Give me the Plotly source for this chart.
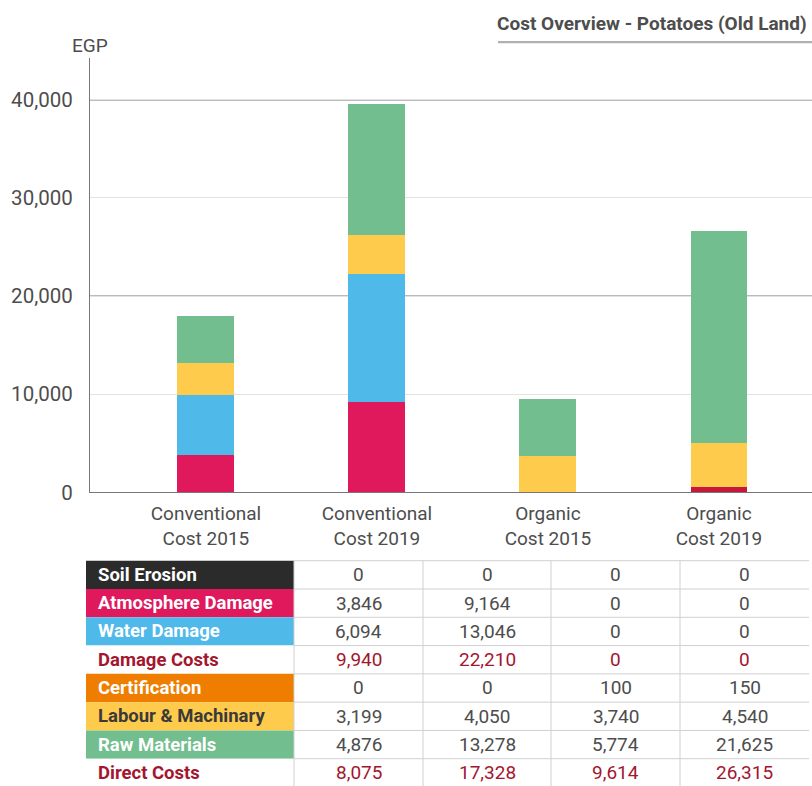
import plotly.graph_objects as go

# ---------------- data ----------------
categories = ["Conventional<br>Cost 2015", "Conventional<br>Cost 2019",
              "Organic<br>Cost 2015", "Organic<br>Cost 2019"]

soil_erosion = [0, 0, 0, 0]
atmosphere_damage = [3846, 9164, 0, 0]
water_damage = [6094, 13046, 0, 0]
damage_costs = [9940, 22210, 0, 0]
certification = [0, 0, 100, 150]
certification_bar = [0, 0, 0, 500]   # height as drawn in the bar chart
labour_machinary = [3199, 4050, 3740, 4540]
raw_materials = [4876, 13278, 5774, 21625]
direct_costs = [8075, 17328, 9614, 26315]

y_ticks = [0, 10000, 20000, 30000, 40000]
y_tick_labels = ["0", "10,000", "20,000", "30,000", "40,000"]
dark_grid_values = [20000, 40000]

row_labels = ["Soil Erosion", "Atmosphere Damage", "Water Damage", "Damage Costs",
              "Certification", "Labour & Machinary", "Raw Materials", "Direct Costs"]

# ---------------- styles ----------------
C_SOIL = "#2b2b2b"
C_ATM = "#E0195C"
C_WATER = "#4FB9EA"
C_CERT_BAR = "#C8173C"
C_CERT = "#EF7D00"
C_LAB = "#FFCB4C"
C_RAW = "#72BE8E"
C_RED_TXT = "#A3162F"
C_TXT = "#4d4d4d"
FONT = "Roboto"

W, H_REF = 812, 786
H = 799  # compensates for the vertical scaling seen in the rendered page
def px_x(v): return v / W
def px_y(v): return (H_REF - v) / H_REF

fig = go.Figure()

series = [
    ("Soil Erosion", soil_erosion, C_SOIL),
    ("Atmosphere Damage", atmosphere_damage, C_ATM),
    ("Water Damage", water_damage, C_WATER),
    ("Certification", certification_bar, C_CERT_BAR),
    ("Labour & Machinary", labour_machinary, C_LAB),
    ("Raw Materials", raw_materials, C_RAW),
]
for name, vals, col in series:
    fig.add_trace(go.Bar(x=categories, y=vals, name=name, marker_color=col,
                         marker_line_width=0))

# ---------------- table (shapes + annotations) ----------------
def fmt(v):
    return f"{v:,}"

rows = [soil_erosion, atmosphere_damage, water_damage, damage_costs,
        certification, labour_machinary, raw_materials, direct_costs]
label_fill = [C_SOIL, C_ATM, C_WATER, "white", C_CERT, C_LAB, C_RAW, "white"]
label_font = ["white", "white", "white", C_RED_TXT, "white", "#3a3a3a", "white", C_RED_TXT]
value_font = [C_TXT, C_TXT, C_TXT, C_RED_TXT, C_TXT, C_TXT, C_TXT, C_RED_TXT]

T_TOP, T_BOT = 560, 786
ROW_H = (T_BOT - T_TOP) / len(row_labels)
LBL_X0, LBL_X1 = 86, 294
col_edges = [294, 423, 551, 680, 809]
GRID = "#d0d0d0"

shapes = []
annotations = []
for i, (lab, vals) in enumerate(zip(row_labels, rows)):
    y0 = T_TOP + i * ROW_H
    y1 = y0 + ROW_H
    yc = (y0 + y1) / 2
    shapes.append(dict(type="rect", xref="paper", yref="paper",
                       x0=px_x(LBL_X0), x1=px_x(LBL_X1), y0=px_y(y1), y1=px_y(y0),
                       fillcolor=label_fill[i], line=dict(width=0), layer="below"))
    annotations.append(dict(text=f"<b>{lab}</b>", xref="paper", yref="paper",
                            x=px_x(LBL_X0 + 10), y=px_y(yc), xanchor="left", yanchor="middle",
                            showarrow=False,
                            font=dict(family=FONT, size=18.5, color=label_font[i])))
    for j, v in enumerate(vals):
        xc = (col_edges[j] + col_edges[j + 1]) / 2
        annotations.append(dict(text=fmt(v), xref="paper", yref="paper",
                                x=px_x(xc), y=px_y(yc), xanchor="center", yanchor="middle",
                                showarrow=False,
                                font=dict(family=FONT, size=19, color=value_font[i])))
# table grid lines
for i in range(len(row_labels) + 1):
    yy = T_TOP + i * ROW_H
    shapes.append(dict(type="line", xref="paper", yref="paper",
                       x0=px_x(col_edges[0]), x1=px_x(col_edges[-1]), y0=px_y(yy), y1=px_y(yy),
                       line=dict(color=GRID, width=1)))
for xe in col_edges[:-1]:
    shapes.append(dict(type="line", xref="paper", yref="paper",
                       x0=px_x(xe), x1=px_x(xe), y0=px_y(T_TOP), y1=px_y(T_BOT),
                       line=dict(color=GRID, width=1)))

# darker grid lines
for gv in dark_grid_values:
    shapes.append(dict(type="line", xref="paper", yref="y", x0=px_x(90), x1=1,
                       y0=gv, y1=gv, line=dict(color="#7a7a7a", width=1.3), layer="below"))
# title underline
shapes.append(dict(type="line", xref="paper", yref="paper", x0=px_x(498), x1=1,
                   y0=px_y(42), y1=px_y(42), line=dict(color="#b0b0b0", width=2.2)))

annotations += [
    dict(text="<b>Cost Overview - Potatoes (Old Land)</b>", xref="paper", yref="paper",
         x=px_x(809), y=px_y(23), xanchor="right", yanchor="middle", showarrow=False,
         font=dict(family=FONT, size=19, color=C_TXT)),
    dict(text="EGP", xref="paper", yref="paper", x=px_x(90), y=px_y(45),
         xanchor="center", yanchor="middle", showarrow=False,
         font=dict(family=FONT, size=19, color=C_TXT)),
]

fig.update_layout(
    width=W, height=H,
    margin=dict(l=0, r=0, t=0, b=0),
    paper_bgcolor="white", plot_bgcolor="white",
    barmode="stack", bargap=0.667, showlegend=False,
    font=dict(family=FONT, color=C_TXT),
    xaxis=dict(domain=[px_x(90), 1], range=[-0.678, 3.544],
               showline=True, linecolor="#777777", linewidth=1.3,
               showgrid=False, ticks="", ticklabelstandoff=4,
               tickfont=dict(family=FONT, size=19, color=C_TXT)),
    yaxis=dict(domain=[px_y(491.7), px_y(58)], range=[0, 44250],
               tickvals=y_ticks, ticktext=y_tick_labels,
               showline=True, linecolor="#777777", linewidth=1.3,
               showgrid=True, gridcolor="#e2e2e2", gridwidth=1,
               zeroline=False, ticks="", ticklabelstandoff=12,
               tickfont=dict(family=FONT, size=20.5, color=C_TXT)),
    shapes=shapes,
    annotations=annotations,
)

fig.write_html("out.html",
               config={"displayModeBar": False, "responsive": False},
               post_script="document.body.style.margin='0';document.body.style.overflow='hidden';")
